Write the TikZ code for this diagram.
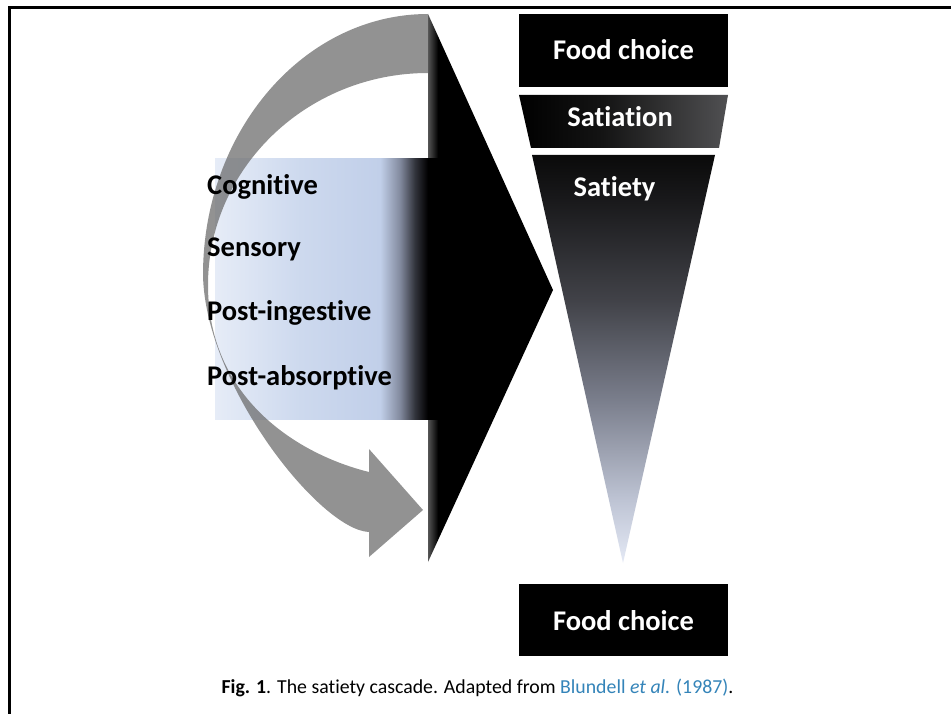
\documentclass[tikz,border=0pt]{standalone}
\usepackage{fontspec}
\setmainfont{Carlito}[Ligatures={NoCommon,NoContextual}]
\definecolor{blA}{RGB}{230,236,247}
\definecolor{blB}{RGB}{205,217,238}
\definecolor{blC}{RGB}{193,207,233}
\definecolor{blD}{RGB}{130,138,158}
\definecolor{blE}{RGB}{50,52,60}
\definecolor{stA}{RGB}{228,233,245}
\definecolor{stB}{RGB}{190,196,212}
\definecolor{stC}{RGB}{122,126,140}
\definecolor{stD}{RGB}{65,66,72}
\definecolor{stE}{RGB}{25,25,27}
\definecolor{stF}{RGB}{10,10,10}
\definecolor{saA}{RGB}{20,20,20}
\definecolor{saB}{RGB}{80,80,82}
\definecolor{edgeg}{RGB}{85,85,85}
\definecolor{arcg}{RGB}{105,105,105}
\definecolor{linkblue}{RGB}{52,132,185}
\pgfdeclarehorizontalshading{bluerect}{100bp}{color(0bp)=(blA); color(25bp)=(blA); color(44bp)=(blB); color(61.7bp)=(blC); color(66.1bp)=(blD); color(69.4bp)=(blE); color(72.3bp)=(black); color(100bp)=(black)}
\pgfdeclareverticalshading{satietysh}{100bp}{color(0bp)=(stA); color(25bp)=(stA); color(32.7bp)=(stB); color(45bp)=(stC); color(57.2bp)=(stD); color(69.5bp)=(stE); color(75bp)=(stF); color(100bp)=(stF)}
\pgfdeclarehorizontalshading{satiationsh}{100bp}{color(0bp)=(black); color(25bp)=(black); color(45bp)=(saA); color(75bp)=(saB); color(100bp)=(saB)}
\pgfdeclarehorizontalshading{chevronsh}{100bp}{color(0bp)=(edgeg); color(25bp)=(edgeg); color(29bp)=(black); color(100bp)=(black)}
\tikzset{
  lab/.style={font=\fontsize{28.5}{34}\selectfont\bfseries, text=black, inner sep=0pt, anchor=base west},
  wlab/.style={font=\fontsize{28.5}{34}\selectfont\bfseries, text=white, inner sep=0pt, anchor=base},
  blackbox/.style={fill=black, draw=none},
}
\begin{document}
\begin{tikzpicture}[x=1pt,y=-1pt]
\useasboundingbox (0,0) rectangle (951,714);
\fill[white] (0,0) rectangle (951,714);
% frame
\draw[line width=2.7pt, line join=miter] (9.3,714) -- (9.3,7.3) -- (951,7.3);
% big black chevron
\shade[shading=chevronsh] (428,14) -- (553,290) -- (428,562) -- cycle;
% blue rectangle
\shade[shading=bluerect] (215,159) rectangle (440,419);
% curved gray arrow
\fill[arcg, fill opacity=0.72]
  (428,14) .. controls (304,14) and (203,131) .. (203,275)
  .. controls (205,385) and (320,530) .. (369,532)
  -- (369,557) -- (423,510) -- (369,449) -- (369,472)
  .. controls (300,455) and (208,400) .. (208,285)
  .. controls (208,168) and (307,73) .. (428,73) -- cycle;
% left labels
\node[lab] (cog) at (207,195) {Cognitive};
\node[lab] (sen) at (207,257) {Sensory};
\node[lab] (ping) at (207,320) {Post-ingestive};
\node[lab] (pabs) at (207,385) {Post-absorptive};
% right column
\fill[blackbox] (519,14) rectangle (728,87);
\shade[shading=satiationsh] (519,95) -- (728,95) -- (719,148) -- (531,148) -- cycle;
\shade[shading=satietysh] (532,155) -- (715,155) -- (623,563) -- cycle;
\fill[blackbox] (519,584) rectangle (728,656);
\node[wlab] (fc1) at (623.5,60) {Food choice};
\node[wlab] (sat1) at (620,127) {Satiation};
\node[wlab] (sat2) at (614.5,197) {Satiety};
\node[wlab] (fc2) at (623.5,630) {Food choice};
% caption
\node[font=\fontsize{19.8}{23}\selectfont, inner sep=0pt, anchor=base] (cap) at (477.5,693)
  {\textbf{Fig. 1}. The satiety cascade. Adapted from \textcolor{linkblue}{Blundell \textit{et al.} (1987)}.};
\end{tikzpicture}
\end{document}
